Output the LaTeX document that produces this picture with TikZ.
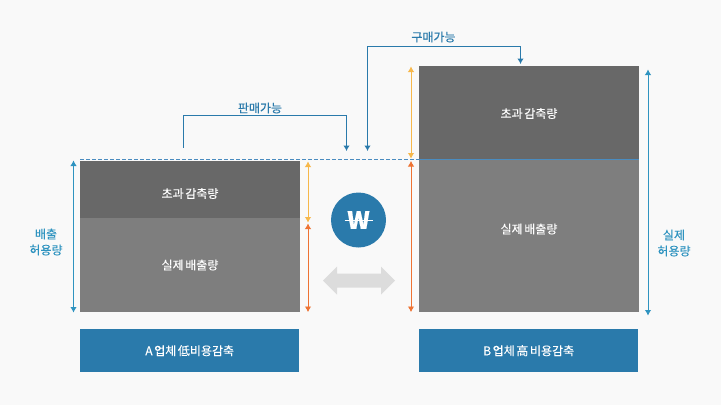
\documentclass[tikz,border=0pt]{standalone}
\usepackage{fontspec}
\setmainfont{Noto Sans CJK KR}[FakeBold=0.3,WordSpace=0.6]
\usetikzlibrary{arrows.meta}
\definecolor{sfondo}{HTML}{F9F9F9}
\definecolor{scuro}{HTML}{686868}
\definecolor{chiaro}{HTML}{7E7E7E}
\definecolor{bluforte}{HTML}{2A7AAB}
\definecolor{bluchiaro}{HTML}{2E93C0}
\definecolor{bluriga}{HTML}{4A8CC0}
\definecolor{giallo}{HTML}{F7B84B}
\definecolor{arancio}{HTML}{EE7333}
\definecolor{grigio}{HTML}{DCDCDC}
\tikzset{
  quota/.style={inner sep=0pt,anchor=north west,minimum width=220pt},
  scritta/.style={text=white,font=\fontsize{12}{14}\selectfont,inner sep=0pt},
  targa/.style={fill=bluforte,text=white,font=\fontsize{12}{14}\selectfont,inner sep=0pt,anchor=north west,minimum width=219pt,minimum height=43pt},
  titolo/.style={text=bluforte,font=\fontsize{12}{14}\selectfont,inner sep=0pt},
  laterale/.style={text=bluchiaro,font=\fontsize{12}{16}\selectfont,inner sep=0pt,align=center},
  freccia/.style={line width=0.9pt,{Latex[length=5.5pt,width=6.5pt]}-{Latex[length=5.5pt,width=6.5pt]}},
  salto/.style={bluforte,line width=1pt,-{Latex[length=5.5pt,width=6.5pt]}},
  doppiosalto/.style={bluforte,line width=1pt,{Latex[length=5.5pt,width=6.5pt]}-{Latex[length=5.5pt,width=6.5pt]}}
}
\begin{document}
\begin{tikzpicture}[x=1pt,y=-1pt]

        % Sfondo
        \fill[sfondo] (0,0) rectangle (721,405);
        \useasboundingbox (0,0) rectangle (721,405);

        % Colonna A
        \node[quota,fill=scuro,minimum height=57pt] (eccessoA) at (80,161) {};
        \node[quota,fill=chiaro,minimum height=94pt] (realeA) at (80,218) {};
        \node[scritta] (testoEccessoA) at (190,193.5) {초과 감축량};
        \node[scritta] (testoRealeA) at (190,265) {실제 배출량};
        \node[targa] (targaA) at (80,329) {A 업체 低비용감축};

        % Colonna B
        \node[quota,fill=scuro,minimum height=93pt] (eccessoB) at (419,66) {};
        \node[quota,fill=chiaro,minimum height=153pt] (realeB) at (419,159) {};
        \node[scritta] (testoEccessoB) at (529,113.5) {초과 감축량};
        \node[scritta] (testoRealeB) at (529,229) {실제 배출량};
        \node[targa] (targaB) at (419,329) {B 업체 高 비용감축};

        % Linea tratteggiata
        \coordinate (trattoA) at (80,159.5);
        \coordinate (trattoB) at (419,159.5);
        \coordinate (trattoC) at (639,159.5);
        \draw[bluriga,line width=0.9pt,dash pattern=on 4pt off 2pt] (trattoA) -- (trattoB);
        \draw[bluriga,line width=0.6pt] (trattoB) -- (trattoC);

        % Quote laterali
        \node[laterale] (consentitoA) at (46,242) {배출\\허용량};
        \node[laterale] (consentitoB) at (674,243) {실제\\허용량};
        \coordinate (sxAlto) at (73.5,160.5);
        \coordinate (sxBasso) at (73.5,312.5);
        \coordinate (dxAlto) at (648,69.5);
        \coordinate (dxBasso) at (648,315.5);
        \draw[freccia,bluchiaro] (sxAlto) -- (sxBasso);
        \draw[freccia,bluchiaro] (dxAlto) -- (dxBasso);

        % Frecce gialle e arancio
        \coordinate (gialloA1) at (308,161.5);
        \coordinate (gialloA2) at (308,222.5);
        \coordinate (arancioA1) at (308,223.5);
        \coordinate (arancioA2) at (308,312);
        \coordinate (gialloB1) at (411,66.5);
        \coordinate (gialloB2) at (411,158.5);
        \coordinate (arancioB1) at (411,161);
        \coordinate (arancioB2) at (411,312);
        \draw[freccia,giallo] (gialloA1) -- (gialloA2);
        \draw[freccia,arancio] (arancioA1) -- (arancioA2);
        \draw[freccia,giallo] (gialloB1) -- (gialloB2);
        \draw[freccia,arancio] (arancioB1) -- (arancioB2);

        % Vendita e acquisto
        \node[titolo] (vendita) at (260,108) {판매가능};
        \node[titolo] (acquisto) at (433.5,37) {구매가능};
        \coordinate (vendita1) at (183,147.5);
        \coordinate (vendita2) at (346.5,151);
        \coordinate (acquisto1) at (367.5,151);
        \coordinate (acquisto2) at (520.5,64);
        \draw[salto] (vendita1) -- (183,115.5) -| (vendita2);
        \draw[doppiosalto] (acquisto1) -- (367.5,46.5) -| (acquisto2);

        % Moneta
        \node[circle,fill=bluforte,minimum size=55pt,inner sep=0pt,text=white,font=\fontsize{24}{24}\selectfont\bfseries] (moneta) at (358.5,220) {W};
        \coordinate (barra1) at (344.5,220.5);
        \coordinate (barra2) at (373,220.5);
        \draw[white,line width=1.3pt] (barra1) -- (barra2);

        % Freccia doppia grigia
        \fill[grigio] (323,280.5) -- (337,266.5) -- (337,273.5) -- (381,273.5) -- (381,266.5) -- (395,280.5)
              -- (381,294.5) -- (381,287.5) -- (337,287.5) -- (337,294.5) -- cycle;

\end{tikzpicture}
\end{document}
